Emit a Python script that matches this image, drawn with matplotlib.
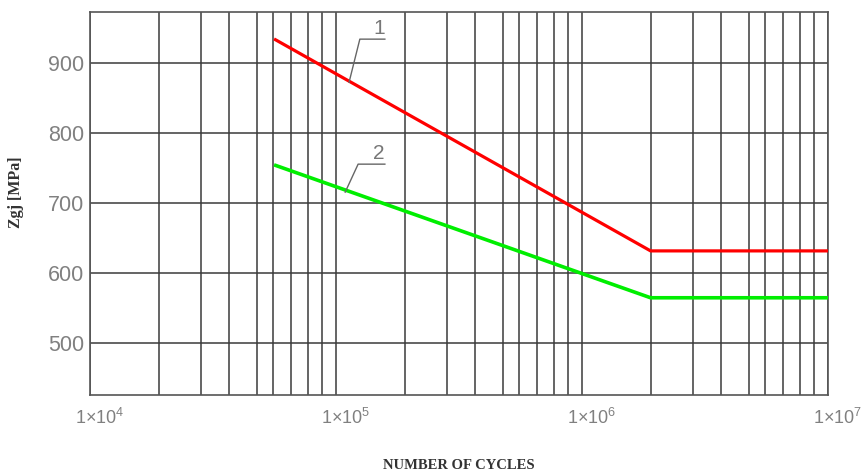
import matplotlib
matplotlib.use('Agg')
import matplotlib.pyplot as plt
import matplotlib.transforms as mtransforms
import numpy as np

# S-N curves: number of cycles vs. Zgj [MPa]
cycles = [5.6e4, 1.9e6, 1e7]
curve1 = [935, 632, 632]
curve2 = [755, 565, 565]
curve_names = ['1', '2']
yticks = [500, 600, 700, 800, 900]
xticks = [1e4, 1e5, 1e6, 1e7]
xticklabels = ['1×10$\\mathregular{^4}$', '1×10$\\mathregular{^5}$',
               '1×10$\\mathregular{^6}$', '1×10$\\mathregular{^7}$']
# where the minor grid lines sit inside each decade (as drawn in the original)
grid_frac = [0.28, 0.45, 0.565, 0.677, 0.745, 0.817, 0.887, 0.943]

plt.rcParams['mathtext.fontset'] = 'custom'
plt.rcParams['mathtext.rm'] = 'Liberation Sans'

fig = plt.figure(figsize=(8.63, 4.73), dpi=100)
ax = fig.add_axes([90 / 863, 78 / 473, 738 / 863, 383 / 473])

ax.set_xscale('log')
ax.set_xlim(1e4, 1e7)
ax.set_ylim(426, 973.5)

gridc = '#3a3a3a'
minor = [10 ** (d + f) for d in (4, 5, 6) for f in grid_frac]
ax.set_xticks(xticks)
ax.set_xticks(minor, minor=True)
ax.set_xticklabels(xticklabels)
ax.set_yticks(yticks)
ax.grid(True, which='both', axis='x', color=gridc, lw=1.1)
ax.grid(True, which='major', axis='y', color=gridc, lw=1.1)
ax.set_axisbelow(True)
for s in ax.spines.values():
    s.set_color('#555555')
    s.set_linewidth(1.2)

ax.tick_params(which='both', length=0)
ax.tick_params(axis='y', pad=4, labelsize=15.5, labelcolor='#808080')
ax.tick_params(axis='x', pad=9, labelsize=13, labelcolor='#808080')
for lab in ax.get_yticklabels() + ax.get_xticklabels():
    lab.set_fontfamily('Liberation Sans')
shift = mtransforms.ScaledTranslation(-15 / 100, 0, fig.dpi_scale_trans)
for lab in ax.get_xticklabels():
    lab.set_ha('left')
    lab.set_transform(lab.get_transform() + shift)

ax.plot(cycles, curve1, color='#ff0000', lw=2.3, solid_capstyle='butt', zorder=3)
ax.plot(cycles, curve2, color='#00ee00', lw=2.6, solid_capstyle='butt', zorder=3)

# leader lines with the curve numbers
leaders = [
    ([1.13e5, 1.25e5, 1.58e5], [873, 934.7, 934.7]),
    ([1.09e5, 1.23e5, 1.58e5], [716, 756, 756]),
]
for (lx, ly), name in zip(leaders, curve_names):
    ax.plot(lx, ly, color='#666666', lw=1.0, zorder=4)
    ax.text(lx[-1], ly[-1] + 1, name, ha='right', va='bottom', fontsize=15,
            color='#777777', family='Liberation Sans')

ax.set_ylabel('Zgj [MPa]', family='Liberation Serif', fontweight='bold',
              fontsize=11.5, color='#333333', labelpad=0)
ax.yaxis.set_label_coords(-0.09, 0.53)
fig.text(459 / 863, 1 - 465 / 473, 'NUMBER OF CYCLES', ha='center', va='center',
         family='Liberation Serif', fontweight='bold', fontsize=10.5, color='#333333')

fig.savefig('out.png', dpi=100)
